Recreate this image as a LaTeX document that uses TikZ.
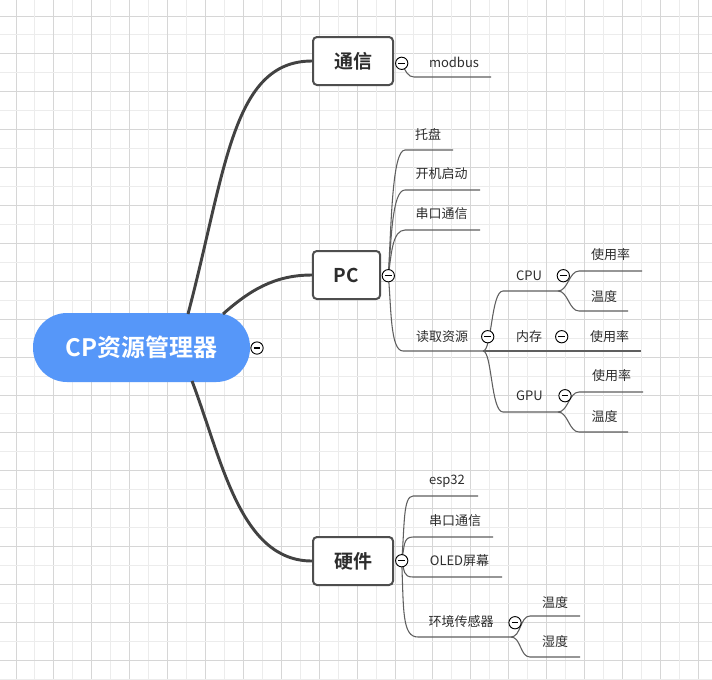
\documentclass[tikz,border=0pt]{standalone}
\usepackage{fontspec}
\setmainfont{Noto Sans CJK SC}[BoldFont={Noto Sans CJK SC Bold}]
\definecolor{gridminor}{RGB}{236,236,236}
\definecolor{gridmajor}{RGB}{214,214,214}
\definecolor{rootblue}{RGB}{86,151,249}
\definecolor{boxdraw}{RGB}{78,78,78}
\definecolor{maincol}{RGB}{66,66,66}
\definecolor{subcol}{RGB}{95,95,95}
\definecolor{txt}{RGB}{45,45,45}
\begin{document}
\begin{tikzpicture}[x=0.75pt,y=-0.75pt,
  leaf/.style={inner sep=0pt, text=txt, font=\fontsize{9.75}{12}\selectfont},
  branch/.style={draw=boxdraw, line width=1.5pt, fill=white, rounded corners=3pt,
    minimum height=36pt, inner sep=0pt, text=txt, font=\bfseries\fontsize{14.25}{17}\selectfont},
  rootnode/.style={fill=rootblue, rounded corners=25.5pt, minimum width=162.75pt,
    minimum height=51.75pt, inner sep=0pt, text=white, font=\bfseries\fontsize{18}{22}\selectfont},
  main/.style={draw=maincol, line width=2.2pt},
  sub/.style={draw=subcol, line width=0.8pt},
  coll/.style={circle, draw=black, fill=white, line width=0.7pt, minimum size=9.2pt, inner sep=0pt,
    path picture={\draw[line width=0.8pt] ([xshift=-2.6pt]path picture bounding box.center) -- ([xshift=2.6pt]path picture bounding box.center);}}
]
% background and grid
\fill[white] (0,0) rectangle (712,679);
\useasboundingbox (0,0) rectangle (712,679);
\foreach \k in {0,...,37} {
  \pgfmathsetmacro{\p}{16+18.95*\k}
  \pgfmathtruncatemacro{\ev}{mod(\k,2)}
  \ifnum\ev=0
    \draw[gridmajor, line width=0.75pt] (\p,0) -- (\p,679);
    \draw[gridmajor, line width=0.75pt] (0,\p) -- (712,\p);
  \else
    \draw[gridminor, line width=0.75pt] (\p,0) -- (\p,679);
    \draw[gridminor, line width=0.75pt] (0,\p) -- (712,\p);
  \fi
}

% root and branch boxes
\node[rootnode] (root) at (141.5,347.5) {CP资源管理器};
\node[branch, minimum width=60pt] (tx) at (353,61) {通信};
\node[branch, minimum width=50.5pt] (pc) at (346.5,275) {PC};
\node[branch, minimum width=60pt] (hw) at (353,561) {硬件};

% main connectors
\coordinate (r1) at (188,314);
\coordinate (r2) at (223,314);
\coordinate (r3) at (192,381);
\draw[main] (r1) .. controls (226,170) and (232,61) .. (tx.west);
\draw[main] (r2) .. controls (250,290) and (275,275) .. (pc.west);
\draw[main] (r3) .. controls (222,460) and (240,561) .. (hw.west);

% junction / underline coordinates
\coordinate (txJ) at (401.7,63.3);
\coordinate (mb1) at (414,77); \coordinate (mb2) at (491,77);
\coordinate (pcJ) at (388.3,275.7);
\coordinate (tp1) at (405,150); \coordinate (tp2) at (453,150);
\coordinate (kj1) at (405,190); \coordinate (kj2) at (480,190);
\coordinate (ck1) at (405,230); \coordinate (ck2) at (480,230);
\coordinate (dq1) at (403,351); \coordinate (dqJ) at (483,351);
\coordinate (cpu1) at (503,291); \coordinate (cpuJ) at (558,291);
\coordinate (memE) at (641,351);
\coordinate (gpu1) at (503,412); \coordinate (gpuJ) at (558,412);
\coordinate (cu1) at (579,271); \coordinate (cu2) at (642,271);
\coordinate (ct1) at (579,311); \coordinate (ct2) at (628,311);
\coordinate (gu1) at (579,392); \coordinate (gu2) at (643,392);
\coordinate (gt1) at (579,432); \coordinate (gt2) at (628,432);
\coordinate (hwJ) at (401.7,560.7);
\coordinate (e1) at (413,496); \coordinate (e2) at (478,496);
\coordinate (s1) at (413,537); \coordinate (s2) at (493,537);
\coordinate (o1) at (413,577); \coordinate (o2) at (502,577);
\coordinate (h1) at (418,637); \coordinate (hJ) at (511,637);
\coordinate (w1) at (530,616); \coordinate (w2) at (580,616);
\coordinate (sh1) at (530,657); \coordinate (sh2) at (580,657);

% sub connectors
\draw[sub] (txJ) .. controls +(4,8) and +(-6,0) .. (mb1) -- (mb2);
\draw[sub] (pcJ) .. controls +(3,-50) and +(-13,0) .. (tp1) -- (tp2);
\draw[sub] (pcJ) .. controls +(3,-35) and +(-13,0) .. (kj1) -- (kj2);
\draw[sub] (pcJ) .. controls +(3,-20) and +(-13,0) .. (ck1) -- (ck2);
\draw[sub] (pcJ) .. controls +(3,30) and +(-13,0) .. (dq1) -- (dqJ);
\draw[sub] (dqJ) .. controls +(9,0) and +(-12,0) .. (cpu1) -- (cpuJ);
\draw[sub] (dqJ) -- (memE);
\draw[sub] (dqJ) .. controls +(9,0) and +(-12,0) .. (gpu1) -- (gpuJ);
\draw[sub] (cpuJ) .. controls +(10,0) and +(-10,0) .. (cu1) -- (cu2);
\draw[sub] (cpuJ) .. controls +(10,0) and +(-10,0) .. (ct1) -- (ct2);
\draw[sub] (gpuJ) .. controls +(10,0) and +(-10,0) .. (gu1) -- (gu2);
\draw[sub] (gpuJ) .. controls +(10,0) and +(-10,0) .. (gt1) -- (gt2);
\draw[sub] (hwJ) .. controls +(3,-35) and +(-10,0) .. (e1) -- (e2);
\draw[sub] (hwJ) .. controls +(3,-15) and +(-10,0) .. (s1) -- (s2);
\draw[sub] (hwJ) .. controls +(3,10) and +(-10,0) .. (o1) -- (o2);
\draw[sub] (hwJ) .. controls +(2,50) and +(-16,0) .. (h1) -- (hJ);
\draw[sub] (hJ) .. controls +(10,0) and +(-10,0) .. (w1) -- (w2);
\draw[sub] (hJ) .. controls +(10,0) and +(-10,0) .. (sh1) -- (sh2);

% leaf texts
\node[leaf] (modbus) at (454,62) {modbus};
\node[leaf] (tuopan) at (428,134) {托盘};
\node[leaf] (kaiji) at (441.5,174) {开机启动};
\node[leaf] (chuankou1) at (441.5,214) {串口通信};
\node[leaf] (duqu) at (442,336.5) {读取资源};
\node[leaf] (cpu) at (529,276) {CPU};
\node[leaf] (mem) at (529,336.5) {内存};
\node[leaf] (gpu) at (529.5,395.5) {GPU};
\node[leaf] (cpuuse) at (610.5,255) {使用率};
\node[leaf] (cputemp) at (604,296.5) {温度};
\node[leaf] (memuse) at (609.5,336.5) {使用率};
\node[leaf] (gpuuse) at (611.5,376) {使用率};
\node[leaf] (gputemp) at (604.5,416.5) {温度};
\node[leaf] (esp) at (447,481) {esp32};
\node[leaf] (chuankou2) at (455,521) {串口通信};
\node[leaf] (oled) at (459.5,561) {OLED屏幕};
\node[leaf] (huanjing) at (461,622) {环境传感器};
\node[leaf] (wendu) at (555,603) {温度};
\node[leaf] (shidu) at (555,641.5) {湿度};

% collapse markers
\node[coll] (cRoot) at (257,348) {};
\node[coll] (cTx) at (txJ) {};
\node[coll] (cPc) at (pcJ) {};
\node[coll] (cDq) at (487.7,336.7) {};
\node[coll] (cCpu) at (563.3,275.7) {};
\node[coll] (cMem) at (561.7,336.7) {};
\node[coll] (cGpu) at (565,395.7) {};
\node[coll] (cHw) at (hwJ) {};
\node[coll] (cHj) at (515,622.7) {};
\end{tikzpicture}
\end{document}
